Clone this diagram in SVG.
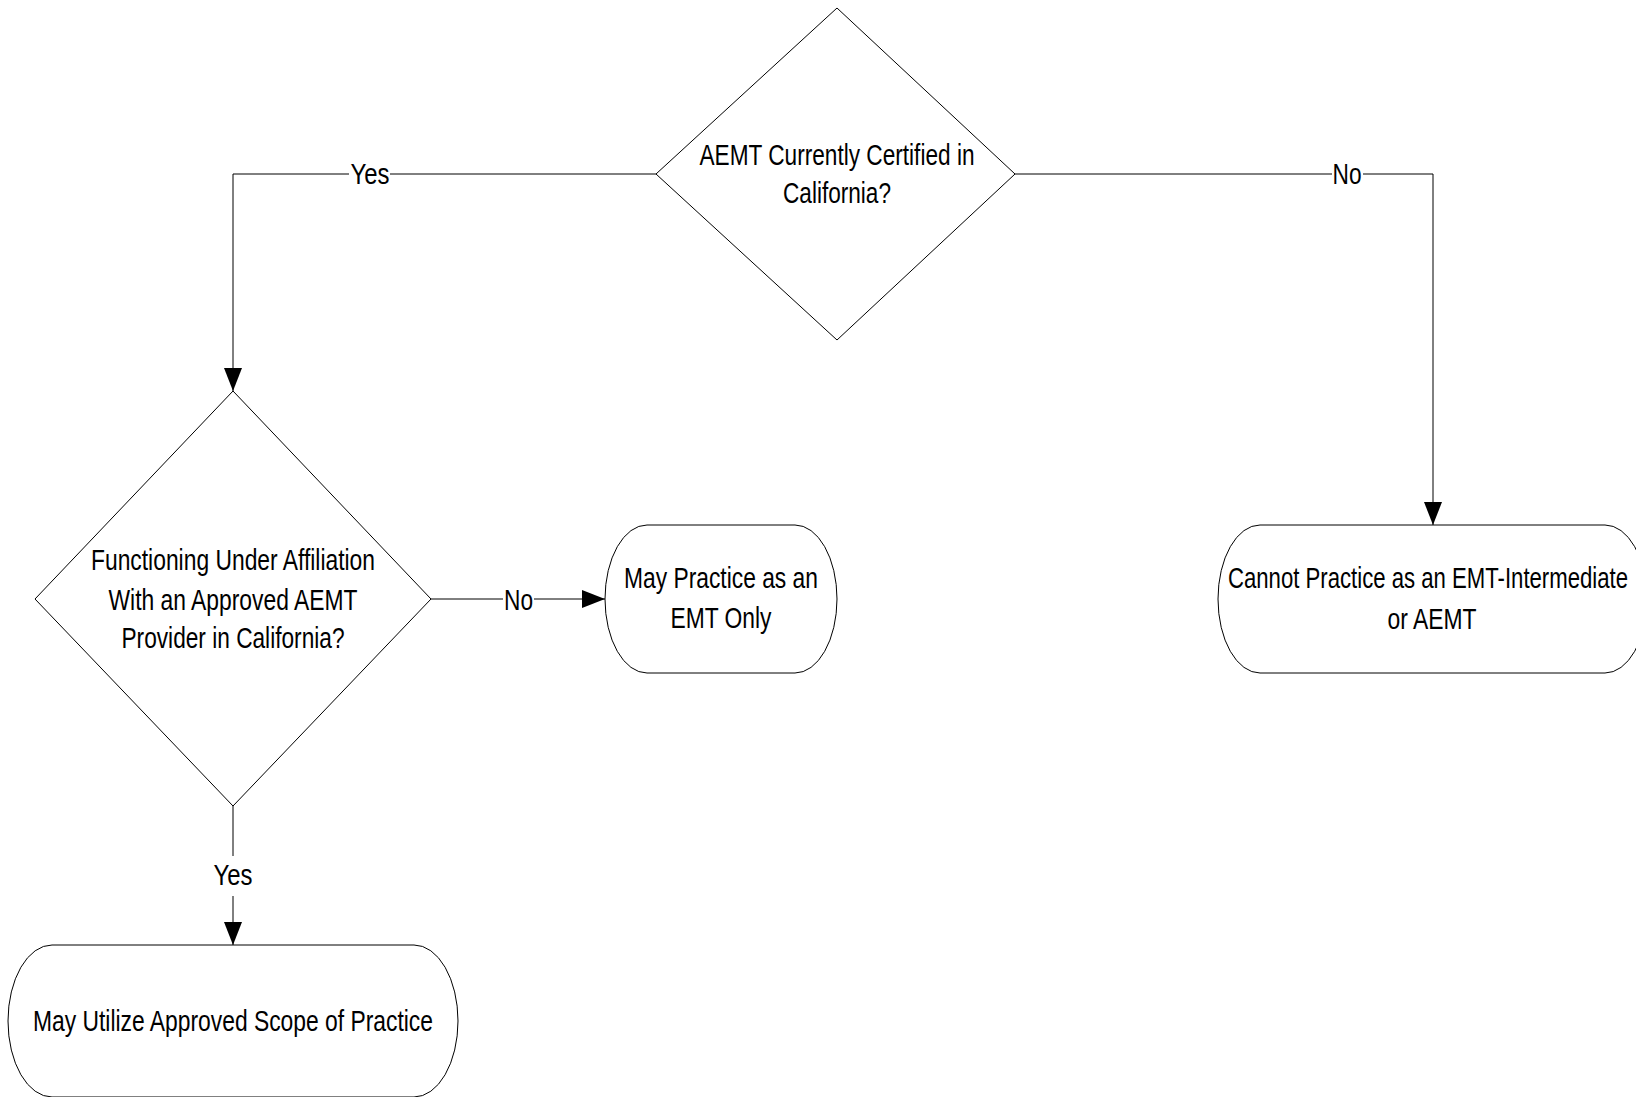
<svg xmlns="http://www.w3.org/2000/svg" width="1636" height="1097" viewBox="0 0 1636 1097">
<style>
.shape{fill:#fff;stroke:#000;stroke-width:1}
.conn{fill:none;stroke:#000;stroke-width:1}
.t{font-family:"Liberation Sans Narrow","Arial Narrow","Liberation Sans",Arial,sans-serif;font-size:30px;fill:#000;text-anchor:middle}
.lblbg{fill:#fff;stroke:none}
</style>
<defs>
<marker id="arr" markerUnits="userSpaceOnUse" markerWidth="24" markerHeight="20" refX="23" refY="9" orient="auto">
<path d="M0,0 L23,9 L0,18 Z" fill="#000"/>
</marker>
</defs>
<rect width="1636" height="1097" fill="#fff"/>
<g id="connectors">
<path class="conn" d="M656,174 H233 V391" marker-end="url(#arr)"/>
<path class="conn" d="M1015,174 H1433 V525" marker-end="url(#arr)"/>
<path class="conn" d="M431,599 H605" marker-end="url(#arr)"/>
<path class="conn" d="M233,806 V945" marker-end="url(#arr)"/>
<rect class="lblbg" x="349" y="158" width="41" height="32"/>
<text class="t" x="370" y="184" textLength="39" lengthAdjust="spacingAndGlyphs">Yes</text>
<rect class="lblbg" x="1332" y="158" width="31" height="32"/>
<text class="t" x="1347" y="184" textLength="29" lengthAdjust="spacingAndGlyphs">No</text>
<rect class="lblbg" x="503" y="584" width="31" height="32"/>
<text class="t" x="518.5" y="610" textLength="29" lengthAdjust="spacingAndGlyphs">No</text>
<rect class="lblbg" x="213" y="856" width="41" height="40"/>
<text class="t" x="233" y="885" textLength="39" lengthAdjust="spacingAndGlyphs">Yes</text>
</g>
<g id="d1">
<polygon class="shape" points="837,8 1015,174 837,340 656,174"/>
<text class="t" x="837" y="165" textLength="275" lengthAdjust="spacingAndGlyphs">AEMT Currently Certified in</text>
<text class="t" x="837" y="203" textLength="108" lengthAdjust="spacingAndGlyphs">California?</text>
</g>
<g id="d2">
<polygon class="shape" points="233,391 431,599 233,806 35,599"/>
<text class="t" x="233" y="570" textLength="284" lengthAdjust="spacingAndGlyphs">Functioning Under Affiliation</text>
<text class="t" x="233" y="610" textLength="249" lengthAdjust="spacingAndGlyphs">With an Approved AEMT</text>
<text class="t" x="233" y="648" textLength="223" lengthAdjust="spacingAndGlyphs">Provider in California?</text>
</g>
<g id="t1">
<path class="shape" d="M647,525 H795 A42,74 0 0 1 795,673 H647 A42,74 0 0 1 647,525 Z"/>
<text class="t" x="721" y="588" textLength="194" lengthAdjust="spacingAndGlyphs">May Practice as an</text>
<text class="t" x="721" y="628" textLength="101" lengthAdjust="spacingAndGlyphs">EMT Only</text>
</g>
<g id="t2">
<path class="shape" d="M1260,525 H1605 A42,74 0 0 1 1605,673 H1260 A42,74 0 0 1 1260,525 Z"/>
<text class="t" x="1428" y="588" textLength="400" lengthAdjust="spacingAndGlyphs">Cannot Practice as an EMT-Intermediate</text>
<text class="t" x="1432" y="629" textLength="89" lengthAdjust="spacingAndGlyphs">or AEMT</text>
</g>
<g id="t3">
<path class="shape" d="M52,945 H414 A44,76 0 0 1 414,1097 H52 A44,76 0 0 1 52,945 Z"/>
<text class="t" x="233" y="1031" textLength="400" lengthAdjust="spacingAndGlyphs">May Utilize Approved Scope of Practice</text>
</g>
</svg>
